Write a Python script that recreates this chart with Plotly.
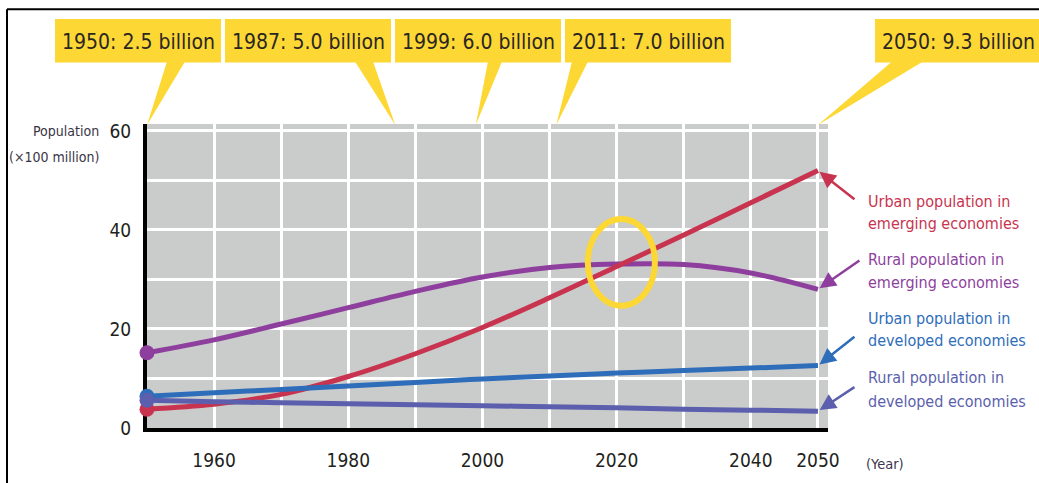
import plotly.graph_objects as go

# ---------------- data ----------------
years = [1950, 1960, 1970, 1980, 1990, 2000, 2010, 2020, 2030, 2040, 2050]
urban_emerging = [3.8, 4.8, 6.8, 10.4, 15.0, 20.3, 26.3, 32.6, 39.0, 45.5, 52.0]
rural_emerging = [15.2, 17.8, 21.0, 24.3, 27.6, 30.5, 32.4, 33.1, 33.0, 31.3, 28.0]
urban_developed = [6.4, 7.1, 7.8, 8.5, 9.2, 9.9, 10.5, 11.1, 11.6, 12.1, 12.6]
rural_developed = [5.6, 5.3, 5.1, 4.9, 4.7, 4.5, 4.3, 4.1, 3.8, 3.6, 3.4]

series_names = ["Rural population in<br>emerging economies",
                "Urban population in<br>emerging economies",
                "Urban population in<br>developed economies",
                "Rural population in<br>developed economies"]
series_values = [rural_emerging, urban_emerging, urban_developed, rural_developed]
series_colors = ["#8E3F9E", "#C8344F", "#2E6DB9", "#5B5FAD"]

callout_years = [1950, 1987, 1999, 2011, 2050]
callout_labels = ["1950: 2.5 billion", "1987: 5.0 billion", "1999: 6.0 billion",
                  "2011: 7.0 billion", "2050: 9.3 billion"]

y_tick_vals = [0, 10, 20, 30, 40, 50, 60]
y_tick_text = ["0", "", "20", "", "40", "", "60"]
x_tick_vals = [1950, 1960, 1970, 1980, 1990, 2000, 2010, 2020, 2030, 2040, 2050]
x_tick_text = ["", "1960", "", "1980", "", "2000", "", "2020", "", "2040", "2050"]

# ---------------- layout geometry ----------------
W, H = 1039, 483
L, R, T, B = 147, 211, 124, 52
X0, X1 = 1950, 2051.5
Y0, Y1 = 0, 61.4
PW, PH = W - L - R, H - T - B

def px(x):
    return (x - L) / PW

def py(y):
    return (H - B - y) / PH

def xpaper(year):
    return (year - X0) / (X1 - X0)

FONT = "DejaVu Sans Condensed, Liberation Sans Narrow, sans-serif"
YELLOW = "#FDD835"
DARK = "#231F20"

fig = go.Figure()
for name, vals, col in zip(series_names, series_values, series_colors):
    fig.add_trace(go.Scatter(
        x=years, y=vals, mode="lines", line=dict(color=col, width=5, shape="spline"),
        name=name, cliponaxis=False, hoverinfo="skip"))
for name, vals, col in zip(series_names, series_values, series_colors):
    fig.add_trace(go.Scatter(
        x=[years[0]], y=[vals[0]], mode="markers", marker=dict(color=col, size=15),
        cliponaxis=False, hoverinfo="skip"))

shapes = []
annotations = []

# outer frame
shapes.append(dict(type="line", xref="paper", yref="paper", x0=px(7), x1=px(1045), y0=py(8), y1=py(8),
                   line=dict(color="black", width=2)))
shapes.append(dict(type="line", xref="paper", yref="paper", x0=px(7), x1=px(7), y0=py(8), y1=py(490),
                   line=dict(color="black", width=2)))

# callout boxes
box_left = [55, 225, 395, 565, 875]
box_w = 166
base_px = [(167, 185), (355, 373), (488, 502), (572, 588), (892, 923)]
for yr, lab, bl, (b0, b1) in zip(callout_years, callout_labels, box_left, base_px):
    shapes.append(dict(type="rect", xref="paper", yref="paper", x0=px(bl), x1=px(bl + box_w),
                       y0=py(62), y1=py(18), fillcolor=YELLOW, line=dict(width=0), layer="above"))
    tx = xpaper(yr)
    shapes.append(dict(type="path", xref="paper", yref="paper",
                       path=f"M {px(b0)} {py(61)} L {px(b1)} {py(61)} L {tx} {py(125)} Z",
                       fillcolor=YELLOW, line=dict(width=0), layer="above"))
    annotations.append(dict(xref="paper", yref="paper", x=px(bl + box_w / 2), y=py(41),
                            text=lab, showarrow=False, xanchor="center", yanchor="middle",
                            font=dict(family=FONT, size=21, color="#2B2622")))

# highlight ellipse at crossing
shapes.append(dict(type="circle", xref="x", yref="y", x0=2015.7, x1=2025.7, y0=24.7, y1=42.2,
                   line=dict(color=YELLOW, width=6), layer="above"))

# right-hand labels and arrows
label_line_y = [(202, 224), (261, 284), (320, 343), (380, 404)]
label_order = [1, 0, 2, 3]
arrow_offsets = {1: (38, 30), 0: (43, -30), 2: (38, -30), 3: (38, -25)}
for (y1p, y2p), idx in zip(label_line_y, label_order):
    col = series_colors[idx]
    l1, l2 = series_names[idx].split("<br>")
    for txt, yp in ((l1, y1p), (l2, y2p)):
        annotations.append(dict(xref="paper", yref="paper", x=px(866), y=py(yp), text=txt,
                                showarrow=False, xanchor="left", yanchor="middle",
                                font=dict(family=FONT, size=16, color=col)))
    ax, ay = arrow_offsets[idx]
    annotations.append(dict(xref="x", yref="y", x=years[-1], y=series_values[idx][-1], text="",
                            showarrow=True, ax=ax, ay=ay, arrowhead=2, arrowsize=1.3,
                            arrowwidth=2.5, arrowcolor=col, standoff=2))

# axis titles
annotations.append(dict(xref="paper", yref="paper", x=px(101), y=py(131), text="Population",
                        showarrow=False, xanchor="right", yanchor="middle",
                        font=dict(family=FONT, size=14, color="#3A3545")))
annotations.append(dict(xref="paper", yref="paper", x=px(101), y=py(157), text="(×100 million)",
                        showarrow=False, xanchor="right", yanchor="middle",
                        font=dict(family=FONT, size=14, color="#3A3545")))
annotations.append(dict(xref="paper", yref="paper", x=px(864), y=py(467), text="(Year)",
                        showarrow=False, xanchor="left", yanchor="middle",
                        font=dict(family=FONT, size=14.5, color="#3A3550")))

fig.update_layout(
    width=W, height=H, margin=dict(l=L, r=R, t=T, b=B, pad=0),
    paper_bgcolor="white", plot_bgcolor="#CACBCB", showlegend=False,
    shapes=shapes, annotations=annotations,
    xaxis=dict(range=[X0, X1], tickmode="array", tickvals=x_tick_vals, ticktext=x_tick_text,
               showgrid=True, gridcolor="white", gridwidth=2.5, zeroline=False,
               showline=True, linecolor="black", linewidth=4, ticks="",
               ticklabelstandoff=12, layer="below traces",
               tickfont=dict(family=FONT, size=19, color=DARK)),
    yaxis=dict(range=[Y0, Y1], tickmode="array", tickvals=y_tick_vals, ticktext=y_tick_text,
               showgrid=True, gridcolor="white", gridwidth=2.5, zeroline=False,
               showline=True, linecolor="black", linewidth=4, ticks="",
               ticklabelstandoff=8, layer="below traces",
               tickfont=dict(family=FONT, size=19, color=DARK)),
)

fig.write_html("out.html")
